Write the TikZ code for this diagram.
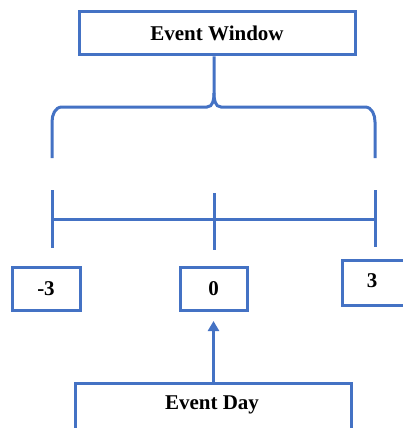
\documentclass[tikz,border=0pt]{standalone}
\usepackage{fontspec}
\setmainfont{Liberation Serif}
\usetikzlibrary{arrows.meta}
\definecolor{bl}{HTML}{4472C4}
\begin{document}
\begin{tikzpicture}[x=1pt,y=-1pt,
  txt/.style={font=\bfseries\fontsize{21}{24}\selectfont},
  box/.style={draw=bl,line width=3pt,rectangle,inner sep=0pt,txt},
  ln/.style={draw=bl,line width=3pt}]
\useasboundingbox (0,0) rectangle (403,428);
\node[box,minimum width=276pt,minimum height=43pt] (ew) at (217,33.5) {Event Window};
\node[box,minimum width=68pt,minimum height=43pt] (m3) at (46,288.5) {-3};
\node[box,minimum width=67pt,minimum height=43pt] (z) at (213.5,288.5) {0};
\node[box,minimum width=68pt,minimum height=45pt,anchor=north west] (p3) at (341,259) {};
\node[txt] (p3t) at (372,281) {3};
\node[box,minimum width=276pt,minimum height=56pt,anchor=north west] (ed) at (74,382) {};
\node[txt] (edt) at (212,405) {Event Day};
% brace
\coordinate (bt) at (214,56);
\coordinate (bl1) at (52,158);
\coordinate (br1) at (375,158);
\draw[ln] (ew.south -| bt) -- (214,93) to[out=-90,in=0] (207,107) -- (62,107) to[out=180,in=90] (52,122) -- (bl1);
\draw[ln] (214,93) to[out=-90,in=180] (221,107) -- (365,107) to[out=0,in=90] (375,122) -- (br1);
% timeline
\coordinate (ta) at (52,190); \coordinate (tb) at (52,248);
\coordinate (tc) at (214,193); \coordinate (td) at (214,250);
\coordinate (te) at (375,190); \coordinate (tf) at (375,247);
\draw[ln] (ta) -- (tb);
\draw[ln] (tc) -- (td);
\draw[ln] (te) -- (tf);
\draw[ln] (52,219) coordinate (h1) -- (375,219) coordinate (h2);
% arrow
\draw[ln,-{Triangle[length=10pt,width=11pt]}] (ed.north -| z) -- (z.south |- 0,321);
\end{tikzpicture}
\end{document}
